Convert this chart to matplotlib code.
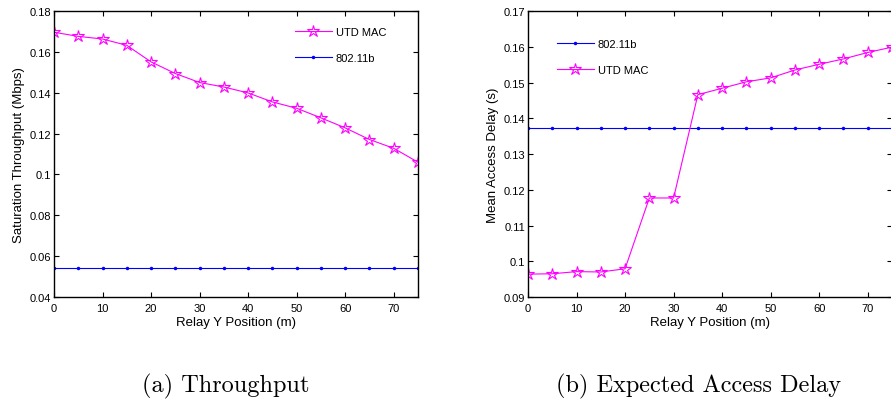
import numpy as np
import matplotlib
matplotlib.use('Agg')
import matplotlib.pyplot as plt
from matplotlib.ticker import MultipleLocator, FormatStrFormatter

plt.rcParams['font.family'] = 'Liberation Sans'
plt.rcParams['axes.linewidth'] = 1.0

# relay y position (m)
relay_y = [0, 5, 10, 15, 20, 25, 30, 35, 40, 45, 50, 55, 60, 65, 70, 75]

# saturation throughput (Mbps)
thr_utd = [0.1696, 0.1676, 0.1663, 0.1632, 0.1551, 0.1494, 0.1450, 0.1428,
           0.1399, 0.1355, 0.1324, 0.1277, 0.1228, 0.1171, 0.1128, 0.1060]
thr_80211b = [0.0542] * 16

# mean access delay (s)
delay_utd = [0.0964, 0.0965, 0.0971, 0.0970, 0.0979, 0.1177, 0.1177, 0.1466,
             0.1484, 0.1502, 0.1513, 0.1535, 0.1551, 0.1566, 0.1584, 0.1599]
delay_80211b = [0.1373] * 16

utd_style = dict(color='#FF00FF', linewidth=0.8, marker='*', markersize=9,
                 markerfacecolor='none', markeredgecolor='#FF00FF', markeredgewidth=0.8)
b_style = dict(color='#0000FF', linewidth=0.8, marker='.', markersize=3)


def style_axes(ax, ymin, ymax, ystep):
    ax.set_xlim(0, 75)
    ax.set_ylim(ymin, ymax)
    ax.xaxis.set_major_locator(MultipleLocator(10))
    ax.yaxis.set_major_locator(MultipleLocator(ystep))
    ax.yaxis.set_major_formatter(FormatStrFormatter('%g'))
    ax.tick_params(direction='in', length=3.5, width=0.8, top=True, right=True, labelsize=8)
    ax.tick_params(axis='y', pad=2)
    ax.tick_params(axis='x', pad=4)
    ax.set_xlabel('Relay Y Position (m)', fontsize=9.5, labelpad=2.5)


fig = plt.figure(figsize=(8.91, 4.02), dpi=100)

# (a) throughput
ax1 = fig.add_axes([0.0606, 0.2587, 0.4085, 0.7114])
ax1.plot(relay_y, thr_utd, label='UTD MAC', **utd_style)
ax1.plot(relay_y, thr_80211b, label='802.11b', **b_style)
style_axes(ax1, 0.04, 0.18, 0.02)
ax1.set_ylabel('Saturation Throughput (Mbps)', fontsize=9.5, labelpad=3)
ax1.legend(loc='upper left', bbox_to_anchor=(0.662, 0.944), frameon=False, fontsize=8,
           handlelength=3.3, handletextpad=0.35, labelspacing=1.45, borderpad=0, borderaxespad=0)

# (b) access delay
ax2 = fig.add_axes([0.5926, 0.2587, 0.4085, 0.7114])
ax2.plot(relay_y, delay_80211b, label='802.11b', **b_style)
ax2.plot(relay_y, delay_utd, label='UTD MAC', **utd_style)
style_axes(ax2, 0.09, 0.17, 0.01)
ax2.set_ylabel('Mean Access Delay (s)', fontsize=9.5, labelpad=3)
ax2.legend(loc='upper left', bbox_to_anchor=(0.080, 0.902), frameon=False, fontsize=8,
           handlelength=3.3, handletextpad=0.35, labelspacing=1.45, borderpad=0, borderaxespad=0)

fig.text(226 / 891, 1 - 392 / 402, '(a) Throughput', family='cmr10', fontsize=17.5,
         ha='center', va='baseline')
fig.text(699 / 891, 1 - 392 / 402, '(b) Expected Access Delay', family='cmr10', fontsize=17.5,
         ha='center', va='baseline')

fig.savefig('out.png', dpi=100)
